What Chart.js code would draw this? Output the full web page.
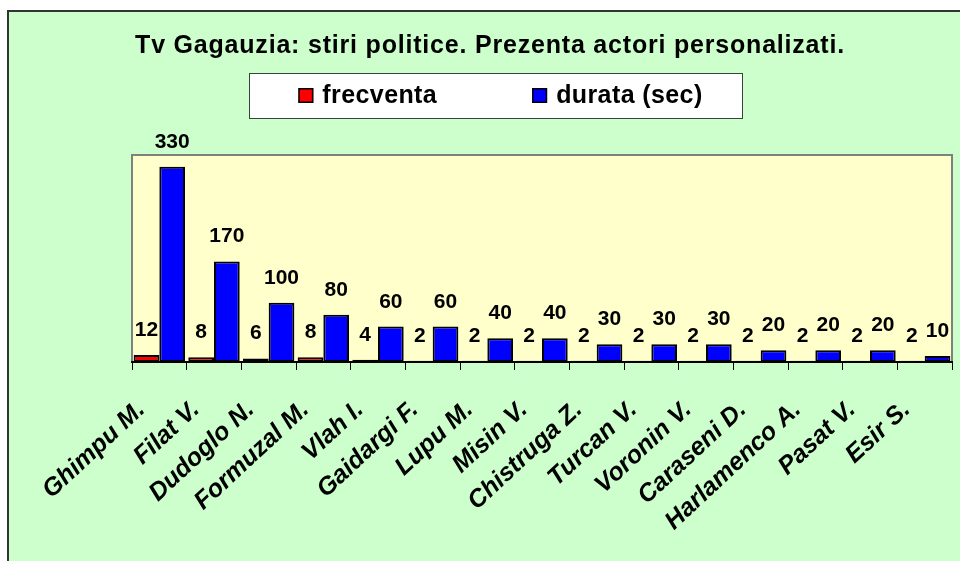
<!DOCTYPE html>
<html>
<head>
<meta charset="utf-8">
<script src="https://cdn.jsdelivr.net/npm/chart.js@4.4.1/dist/chart.umd.min.js"></script>
<style>
html,body{margin:0;padding:0;background:#fff;}
#wrap{width:960px;height:561px;position:relative;overflow:hidden;}
canvas{display:block;}
</style>
</head>
<body>
<div id="wrap"><canvas id="c" width="960" height="561"></canvas></div>
<script>
const TITLE = 'Tv Gagauzia: stiri politice. Prezenta actori personalizati.';
const categories = ['Ghimpu M.', 'Filat V.', 'Dudoglo N.', 'Formuzal M.', 'Vlah I.', 'Gaidargi F.', 'Lupu M.', 'Misin V.', 'Chistruga Z.', 'Turcan V.', 'Voronin V.', 'Caraseni D.', 'Harlamenco A.', 'Pasat V.', 'Esir S.'];
const frecventa = [12, 8, 6, 8, 4, 2, 2, 2, 2, 2, 2, 2, 2, 2, 2];
const durata = [330, 170, 100, 80, 60, 60, 40, 40, 30, 30, 30, 20, 20, 20, 10];
const seriesNames = ['frecventa', 'durata (sec)'];
const seriesColors = ['#FF0000', '#0000FF'];
const Y_MIN = 0;
const Y_MAX = 350;

const FONT = '"Liberation Sans", Arial, sans-serif';

const decor = {
  id: 'decor',
  beforeDraw(chart) {
    const ctx = chart.ctx;
    const a = chart.chartArea;
    ctx.save();
    ctx.fillStyle = '#FFFFFF';
    ctx.fillRect(0, 0, chart.width, chart.height);
    ctx.fillStyle = '#CCFFCC';
    ctx.fillRect(7, 10, chart.width + 20, chart.height + 20);
    ctx.strokeStyle = '#333333';
    ctx.lineWidth = 2;
    ctx.strokeRect(8, 11, chart.width + 20, chart.height + 20);
    ctx.fillStyle = '#FFFFCC';
    ctx.fillRect(a.left, a.top, a.right - a.left, a.bottom - a.top);
    ctx.strokeStyle = '#808080';
    ctx.lineWidth = 2;
    ctx.beginPath();
    ctx.moveTo(a.left, a.bottom);
    ctx.lineTo(a.left, a.top);
    ctx.lineTo(a.right, a.top);
    ctx.lineTo(a.right, a.bottom);
    ctx.stroke();
    ctx.fillStyle = '#000';
    ctx.font = 'bold 25px ' + FONT;
    ctx.letterSpacing = '0.8px';
    ctx.textAlign = 'center';
    ctx.textBaseline = 'alphabetic';
    ctx.fillText(TITLE, 490, 53);
    ctx.font = 'bold 25px ' + FONT;
    ctx.letterSpacing = '0.4px';
    const boxS = 15, gapT = 9, spacing = 95;
    const ds = chart.data.datasets;
    const widths = ds.map(d => ctx.measureText(d.label).width);
    let total = 0;
    widths.forEach((w, i) => { total += boxS + gapT + w + (i < widths.length - 1 ? spacing : 0); });
    const cx = 500.5;
    let x = cx - total / 2;
    const boxL = x - 49, boxR = x + total + 40;
    ctx.fillStyle = '#FFFFFF';
    ctx.fillRect(boxL, 73, boxR - boxL, 45);
    ctx.strokeStyle = '#404040';
    ctx.lineWidth = 1;
    ctx.strokeRect(Math.round(boxL) + 0.5, 73.5, Math.round(boxR - boxL), 45);
    ctx.textAlign = 'left';
    ds.forEach((d, i) => {
      ctx.fillStyle = d.backgroundColor;
      ctx.fillRect(x, 88, boxS, boxS);
      ctx.strokeStyle = '#000';
      ctx.lineWidth = 1.5;
      ctx.strokeRect(x + 0.75, 88.75, boxS - 1.5, boxS - 1.5);
      ctx.fillStyle = '#000';
      ctx.fillText(d.label, x + boxS + gapT, 103);
      x += boxS + gapT + widths[i] + spacing;
    });
    ctx.restore();
  },
  afterDatasetsDraw(chart) {
    const ctx = chart.ctx;
    ctx.save();
    ctx.font = 'bold 21px ' + FONT;
    ctx.fillStyle = '#000';
    ctx.textAlign = 'center';
    ctx.textBaseline = 'alphabetic';
    chart.data.datasets.forEach((d, di) => {
      const meta = chart.getDatasetMeta(di);
      meta.data.forEach((el, i) => {
        ctx.fillText(String(d.data[i]), el.x, el.y - 19);
      });
    });
    ctx.restore();
  }
};

new Chart(document.getElementById('c'), {
  type: 'bar',
  data: {
    labels: categories,
    datasets: [
      { label: seriesNames[0], data: frecventa, backgroundColor: seriesColors[0], borderColor: '#000', borderWidth: 2, borderSkipped: false },
      { label: seriesNames[1], data: durata, backgroundColor: seriesColors[1], borderColor: '#000', borderWidth: 2, borderSkipped: false }
    ]
  },
  options: {
    responsive: false,
    devicePixelRatio: 1,
    animation: false,
    datasets: { bar: { categoryPercentage: 0.94, barPercentage: 1.0 } },
    layout: { padding: { top: 155, left: 132, right: 8, bottom: 0 } },
    plugins: {
      title: { display: false },
      legend: { display: false },
      tooltip: { enabled: false }
    },
    scales: {
      x: {
        offset: true,
        grid: { display: true, offset: true, drawOnChartArea: false, drawTicks: true, tickLength: 8, color: '#000', lineWidth: 1 },
        border: { display: true, color: '#000', width: 2 },
        ticks: {
          autoSkip: false,
          minRotation: 43,
          maxRotation: 43,
          padding: 25,
          labelOffset: -18,
          color: '#000',
          font: { family: FONT, size: 25, style: 'italic', weight: 'bold' }
        },
        afterFit(scale) { scale.height = 199; scale.paddingLeft = 0; scale.paddingRight = 0; }
      },
      y: {
        display: false,
        min: Y_MIN,
        max: Y_MAX
      }
    }
  },
  plugins: [decor]
});
</script>
</body>
</html>
